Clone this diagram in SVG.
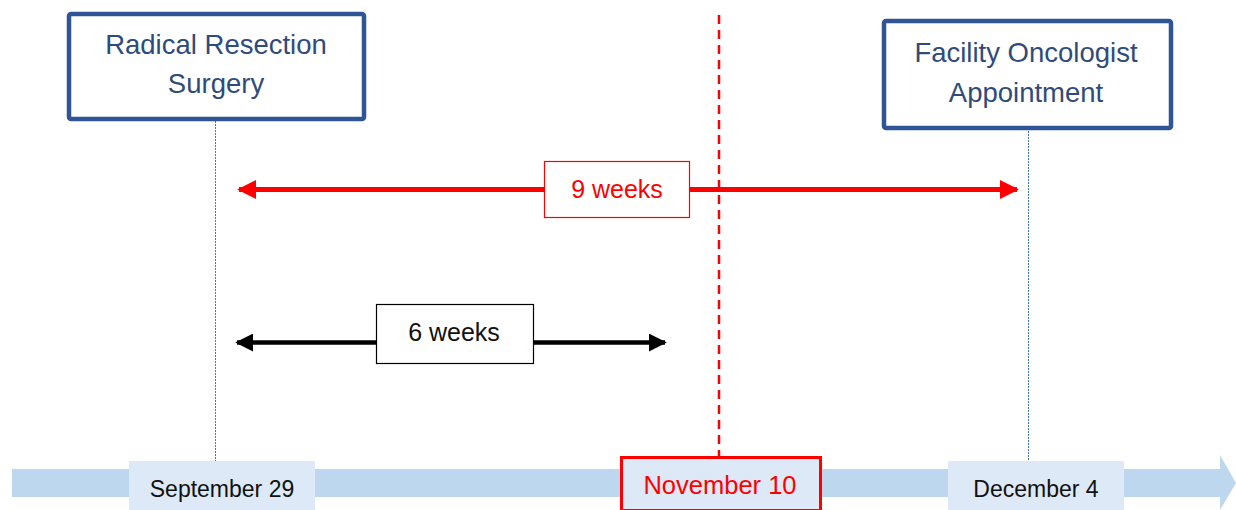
<svg xmlns="http://www.w3.org/2000/svg" width="1236" height="510" viewBox="0 0 1236 510">
<style>
.evt{fill:#fff;stroke:#2f5597;stroke-width:4.5}
.evtt{font-family:"Liberation Sans",Arial,sans-serif;font-size:27.5px;fill:#2f4b7c;text-anchor:middle}
.date{fill:#dde9f6}
.datet{font-family:"Liberation Sans",Arial,sans-serif;font-size:23px;fill:#111;text-anchor:middle}
.guide{stroke:#4472c4;stroke-width:1;stroke-dasharray:2 1}
.lbl{font-family:"Liberation Sans",Arial,sans-serif;font-size:25px;text-anchor:middle}
</style>
<defs>
<marker id="ar" viewBox="0 0 10 10" refX="9" refY="5" markerWidth="3.8" markerHeight="3.8" orient="auto-start-reverse" markerUnits="strokeWidth"><path d="M0,0 L10,5 L0,10 z" fill="#ff0000"/></marker>
<marker id="ab" viewBox="0 0 10 10" refX="9" refY="5" markerWidth="4" markerHeight="4" orient="auto-start-reverse" markerUnits="strokeWidth"><path d="M0,0 L10,5 L0,10 z" fill="#000"/></marker>
</defs>
<rect width="1236" height="510" fill="#fff"/>
<g id="timeline">
<rect x="12" y="469" width="1210" height="28" fill="#bdd7ee"/>
<path d="M1220,455 L1236,483 L1220,510 z" fill="#bdd7ee"/>
</g>
<g id="connectors">
<line class="guide" x1="215.5" y1="121" x2="215.5" y2="462"/>
<line class="guide" x1="1028.5" y1="131" x2="1028.5" y2="461"/>
<line x1="719" y1="15" x2="719" y2="456" stroke="#ff0000" stroke-width="2.5" stroke-dasharray="9 6"/>
<line x1="239" y1="189.5" x2="1017" y2="189.5" stroke="#ff0000" stroke-width="5" marker-start="url(#ar)" marker-end="url(#ar)"/>
<line x1="237" y1="342.5" x2="665" y2="342.5" stroke="#000" stroke-width="4.5" marker-start="url(#ab)" marker-end="url(#ab)"/>
</g>
<g id="surgery">
<rect class="evt" x="69" y="14" width="295" height="105" rx="2"/>
<text class="evtt" x="216" y="54">Radical Resection</text>
<text class="evtt" x="216" y="93">Surgery</text>
</g>
<g id="oncologist">
<rect class="evt" x="884" y="21" width="287" height="107" rx="2"/>
<text class="evtt" x="1026" y="62">Facility Oncologist</text>
<text class="evtt" x="1026" y="102">Appointment</text>
</g>
<g id="nine-weeks">
<rect x="544.5" y="161.5" width="145" height="56" fill="#fff" stroke="#ff0000" stroke-width="1.2"/>
<text class="lbl" x="617" y="198" fill="#ff0000">9 weeks</text>
</g>
<g id="six-weeks">
<rect x="376.5" y="304.5" width="157" height="59" fill="#fff" stroke="#000" stroke-width="1.2"/>
<text class="lbl" x="454" y="341" fill="#111">6 weeks</text>
</g>
<g id="sep29">
<rect class="date" x="129" y="461" width="186" height="49"/>
<text class="datet" x="222" y="497">September 29</text>
</g>
<g id="nov10">
<rect x="621.5" y="457.5" width="199" height="53" fill="#dde9f6" stroke="#ff0000" stroke-width="3"/>
<text class="datet" x="720" y="494" style="fill:#ff0000;font-size:25.5px">November 10</text>
</g>
<g id="dec4">
<rect class="date" x="948" y="461" width="176" height="49"/>
<text class="datet" x="1036" y="497">December 4</text>
</g>
</svg>
